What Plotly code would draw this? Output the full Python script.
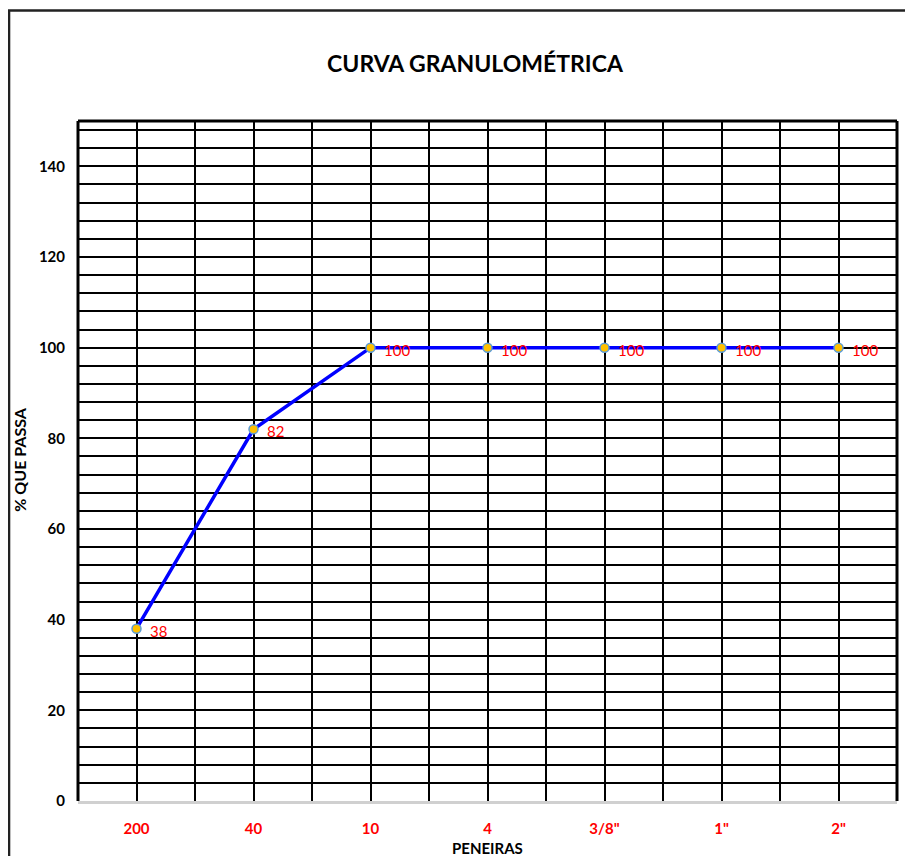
import plotly.graph_objects as go

peneiras = ["200", "40", "10", "4", "3/8\"", "1\"", "2\""]
passa = [38, 82, 100, 100, 100, 100, 100]
rotulos = [str(v) for v in passa]

x_pos = list(range(len(peneiras)))

fig = go.Figure()

fig.add_trace(go.Scatter(
    x=x_pos, y=passa,
    mode="lines+markers",
    line=dict(color="#0000FF", width=3.5),
    marker=dict(size=9, color="#FFC000", line=dict(color="#5B9BD5", width=1.5)),
    cliponaxis=False,
    showlegend=False,
))

# rotulos de dados (vermelhos, a direita do ponto)
for xi, yi, t in zip(x_pos, passa, rotulos):
    fig.add_annotation(x=xi, y=yi, text=t, showarrow=False,
                       xanchor="left", yanchor="middle", xshift=11, yshift=-2,
                       font=dict(family="Lato", size=15, color="#FF0000"))

fig.update_xaxes(
    range=[-0.5, len(peneiras) - 0.5],
    tickmode="array", tickvals=x_pos, ticktext=peneiras,
    tickfont=dict(family="Lato", size=15, color="#FF0000", weight="bold"),
    ticks="", ticklabelstandoff=12,
    showgrid=True, gridcolor="#000000", gridwidth=1.5,
    minor=dict(tick0=-0.5, dtick=0.5, showgrid=True, gridcolor="#000000", gridwidth=1.5),
    showline=True, linecolor="#D0D0D0", linewidth=3,
    zeroline=False,
)

fig.update_yaxes(
    range=[0, 150], dtick=20,
    tickfont=dict(family="Lato", size=15, color="#000000", weight="bold"),
    ticks="", ticklabelstandoff=12,
    showgrid=True, gridcolor="#000000", gridwidth=2,
    minor=dict(dtick=4, showgrid=True, gridcolor="#000000", gridwidth=1.5),
    showline=False, zeroline=False,
)

# borda da area de plotagem (esquerda, topo, direita)
for x0, y0, x1, y1 in [(0, 0, 0, 1), (0, 1, 1, 1), (1, 0, 1, 1)]:
    fig.add_shape(type="line", xref="paper", yref="paper",
                  x0=x0, y0=y0, x1=x1, y1=y1,
                  line=dict(color="#000000", width=3))

# borda externa do grafico
fig.add_shape(type="rect", xref="paper", yref="paper",
              x0=-0.0842, y0=-0.12, x1=1.05, y1=1.1625,
              line=dict(color="#222222", width=2.5), layer="above")

fig.add_annotation(text="<b>PENEIRAS</b>", xref="paper", yref="paper",
                   x=0.5, y=-0.069, yanchor="middle", showarrow=False,
                   font=dict(family="Lato", size=15, color="#000000"))
fig.add_annotation(text="<b>% QUE PASSA</b>", xref="paper", yref="paper",
                   x=-0.0708, y=0.502, textangle=-90, xanchor="center", yanchor="middle",
                   showarrow=False, font=dict(family="Lato", size=16, color="#000000"))

# a pagina tem margem de 8px no body: figura reduzida para caber na janela
fig.update_layout(
    width=905, height=848,
    margin=dict(l=70, r=16, t=113, b=55),
    paper_bgcolor="#FFFFFF", plot_bgcolor="#FFFFFF",
    title=dict(text="<b>CURVA GRANULOMÉTRICA</b>", x=(475 - 8) / 905, xanchor="center",
               y=1 - (64 - 8) / 848, yanchor="middle",
               font=dict(family="Lato", size=23, color="#000000")),
)

fig.write_html("out.html")
